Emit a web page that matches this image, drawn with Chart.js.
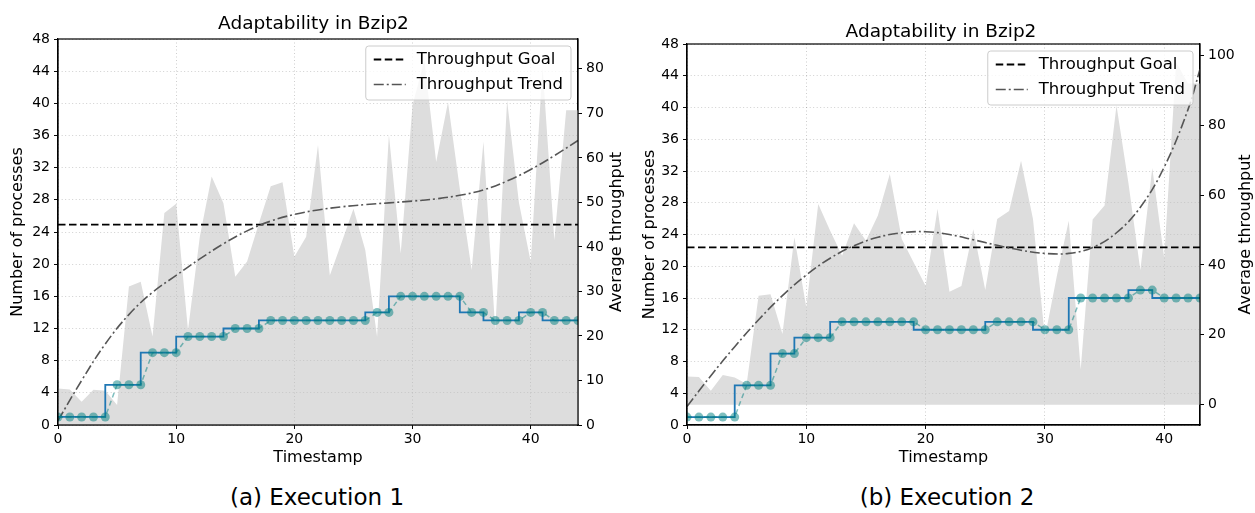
<!DOCTYPE html>
<html>
<head>
<meta charset="utf-8">
<script src="https://cdn.jsdelivr.net/npm/chart.js@4/dist/chart.umd.min.js"></script>
<style>
  body { margin: 0; background: #fff; }
  #page { position: relative; width: 1255px; height: 513px; font-family: "DejaVu Sans", sans-serif; }
  canvas { position: absolute; top: 0; }
  .caption { position: absolute; top: 482px; height: 30px; line-height: 30px; font-size: 23px; text-align: center; color: #000; }
</style>
</head>
<body>
<div id="page">
  <canvas id="exec1" width="627" height="475" style="left:0"></canvas>
  <canvas id="exec2" width="628" height="475" style="left:627px"></canvas>
  <div class="caption" style="left:0;width:634px">(a) Execution 1</div>
  <div class="caption" style="left:627px;width:640px">(b) Execution 2</div>
</div>
<script>
/* ---------- Execution 1 ---------- */
const procs1 = [1, 1, 1, 1, 1, 5, 5, 5, 9, 9, 9, 11, 11, 11, 11, 12, 12, 12, 13, 13, 13, 13, 13,
  13, 13, 13, 13, 14, 14, 16, 16, 16, 16, 16, 16, 14, 14, 13, 13, 13, 14, 14, 13, 13, 13];
const thr1 = [8.2, 8.0, 5.2, 7.9, 7.7, 4.5, 31.1, 32.2, 19.9, 47.6, 49.7, 21.3, 42.3, 55.8, 49.8,
  33.3, 36.7, 45.3, 53.6, 54.5, 37.8, 42.3, 62.9, 33.6, 41.0, 48.6, 39.3, 19.8, 65.2, 38.5, 71.8,
  81.9, 59.1, 72.5, 53.0, 34.8, 63.6, 21.3, 72.9, 50.0, 36.6, 80.4, 41.5, 70.7, 70.7];
const trendT1 = [0, 2, 4, 6, 8, 10, 12, 14, 16, 18, 20, 22, 24, 26, 28, 30, 32, 34, 36, 38, 40, 42, 44];
const trend1 = [1.0, 10.0, 18.2, 24.8, 29.8, 33.6, 37.3, 40.7, 43.6, 45.8, 47.3, 48.3, 49.0, 49.5,
  49.9, 50.3, 50.8, 51.6, 52.8, 54.8, 57.4, 60.5, 63.9];

/* ---------- Execution 2 ---------- */
const procs2 = [1, 1, 1, 1, 1, 5, 5, 5, 9, 9, 11, 11, 11, 13, 13, 13, 13, 13, 13, 13, 12, 12, 12,
  12, 12, 12, 13, 13, 13, 13, 12, 12, 12, 16, 16, 16, 16, 16, 17, 17, 16, 16, 16, 16];
const thr2 = [8.1, 7.9, 4.0, 8.5, 7.8, 5.9, 31.2, 31.6, 20.2, 47.9, 27.8, 57.4, 49.8, 42.6, 51.9,
  46.9, 54.1, 66.0, 47.4, 40.7, 34.0, 56.1, 32.3, 34.0, 50.2, 32.8, 53.1, 55.4, 69.8, 53.1, 19.2,
  36.8, 52.6, 10.1, 53.0, 57.0, 85.6, 63.4, 38.5, 67.7, 42.0, 98.0, 91.9, 91.9];
const trendT2 = [0, 2, 4, 6, 8, 10, 12, 14, 16, 18, 20, 22, 24, 26, 28, 30, 32, 34, 36, 38, 40, 42, 43];
const trend2 = [-0.5, 8.3, 16.6, 24.3, 31.2, 37.1, 41.9, 45.5, 47.9, 49.2, 49.5, 48.7, 47.2, 45.6,
  44.2, 43.3, 43.3, 45.0, 49.2, 56.5, 68.0, 84.5, 96.0];

const goal = 45;

Chart.defaults.font.family = '"DejaVu Sans", sans-serif';
Chart.defaults.color = '#000';

const pts = (ys, xs) => ys.map((y, i) => ({ x: xs ? xs[i] : i, y }));

// frame, grid over the grey area, right axis title and the boxed legend
const boxLegend = {
  id: 'boxLegend',
  afterDatasetDraw(chart, args) {
    if (args.index === 0) {
      chart.scales.x.drawGrid(chart.chartArea);
      chart.scales.y.drawGrid(chart.chartArea);
    }
  },
  afterDraw(chart, args, opts) {
    const { ctx, chartArea: a } = chart;
    ctx.save();
    ctx.setLineDash([]);
    ctx.strokeStyle = '#000';
    ctx.lineWidth = 1.2;
    ctx.strokeRect(a.left, a.top, a.right - a.left, a.bottom - a.top);

    // right axis title reads bottom to top, same as the left one
    ctx.save();
    ctx.translate(chart.width - opts.rightTitleOffset, (a.top + a.bottom) / 2);
    ctx.rotate(-Math.PI / 2);
    ctx.font = '16px "DejaVu Sans"';
    ctx.fillStyle = '#000';
    ctx.textAlign = 'center';
    ctx.textBaseline = 'middle';
    ctx.fillText('Average throughput', 0, 0);
    ctx.restore();

    const items = chart.data.datasets.filter(d => d.inLegend);
    ctx.font = '16.5px "DejaVu Sans"';
    const textW = Math.max(...items.map(d => ctx.measureText(d.label).width));
    const w = 51 + textW + 8, h = 54;
    const x0 = a.right - 7 - w, y0 = a.top + 7;
    ctx.fillStyle = 'rgba(255,255,255,0.8)';
    ctx.strokeStyle = '#cccccc';
    ctx.lineWidth = 1;
    ctx.beginPath();
    ctx.roundRect(x0, y0, w, h, 3);
    ctx.fill();
    ctx.stroke();
    items.forEach((d, i) => {
      const y = y0 + 13.5 + i * 25;
      ctx.strokeStyle = d.borderColor;
      ctx.lineWidth = d.borderWidth;
      ctx.setLineDash(d.borderDash);
      ctx.beginPath();
      ctx.moveTo(x0 + 8, y);
      ctx.lineTo(x0 + 40, y);
      ctx.stroke();
      ctx.setLineDash([]);
      ctx.fillStyle = '#000';
      ctx.textAlign = 'left';
      ctx.textBaseline = 'middle';
      ctx.fillText(d.label, x0 + 51, y);
    });
    ctx.restore();
  }
};

function makeChart(id, c) {
  const tickFont = { size: 14 };
  const gridOpts = { color: 'rgba(0,0,0,0.13)', lineWidth: 0.8, tickColor: '#000', tickLength: 4, tickBorderDash: [] };
  return new Chart(document.getElementById(id), {
    type: 'line',
    plugins: [boxLegend],
    data: {
      datasets: [
        {
          label: 'Average throughput',
          data: pts(c.thr),
          yAxisID: 'y1',
          fill: { value: 0 },
          backgroundColor: '#dddddd',
          borderWidth: 0,
          pointRadius: 0,
          order: 5
        },
        {
          label: 'Throughput Goal',
          inLegend: true,
          data: [{ x: 0, y: goal }, { x: c.xMax, y: goal }],
          yAxisID: 'y1',
          borderColor: '#000',
          borderWidth: 1.8,
          borderDash: [7.5, 3.5],
          pointRadius: 0,
          order: 3
        },
        {
          label: 'Throughput Trend',
          inLegend: true,
          data: pts(c.trend, c.trendT),
          yAxisID: 'y1',
          borderColor: '#555555',
          borderWidth: 1.6,
          borderDash: [10, 3, 2, 3],
          tension: 0.4,
          pointRadius: 0,
          order: 2
        },
        {
          label: 'Processes',
          data: pts(c.procs),
          yAxisID: 'y',
          stepped: 'after',
          borderColor: '#1f77b4',
          borderWidth: 1.8,
          pointRadius: 0,
          order: 1
        },
        {
          label: 'Processes (sampled)',
          data: pts(c.procs),
          yAxisID: 'y',
          borderColor: 'rgba(0,128,128,0.5)',
          borderWidth: 1.5,
          borderDash: [5, 3.5],
          pointRadius: 4.5,
          pointBorderWidth: 0,
          pointBackgroundColor: 'rgba(0,128,128,0.5)',
          order: 0
        }
      ]
    },
    options: {
      responsive: false,
      animation: false,
      events: [],
      layout: { padding: 0 },
      plugins: {
        legend: { display: false },
        tooltip: { enabled: false },
        title: {
          display: true,
          text: 'Adaptability in Bzip2',
          font: { size: 18.5, weight: 'normal' },
          padding: c.titlePad
        },
        boxLegend: { rightTitleOffset: c.rightTitleOffset }
      },
      scales: {
        x: {
          type: 'linear',
          min: 0,
          max: c.xMax,
          afterFit: s => { s.height = 50; },
          ticks: { stepSize: 10, includeBounds: false, font: tickFont, padding: 2, maxRotation: 0 },
          grid: gridOpts,
          border: { color: '#000', width: 1.2, dash: [1, 2.5] },
          title: { display: true, text: 'Timestamp', font: { size: 16 }, padding: { top: 0, bottom: 7.4 } }
        },
        y: {
          position: 'left',
          min: 0,
          max: 48,
          afterFit: s => { s.width = c.leftW; },
          ticks: { stepSize: 4, font: tickFont, padding: 4 },
          grid: gridOpts,
          border: { color: '#000', width: 1.2, dash: [1, 2.5] },
          title: { display: true, text: 'Number of processes', font: { size: 16 }, padding: { top: c.yTitlePad, bottom: 0 } }
        },
        y1: {
          position: 'right',
          min: c.y1Min,
          max: c.y1Max,
          afterFit: s => { s.width = c.rightW; },
          ticks: { stepSize: c.y1Step, includeBounds: false, font: tickFont, padding: 4 },
          grid: { drawOnChartArea: false, color: '#000', tickLength: 4 },
          border: { color: '#000', width: 1.2 }
        }
      }
    }
  });
}

makeChart('exec1', {
  procs: procs1, thr: thr1, trend: trend1, trendT: trendT1,
  xMax: 44, y1Min: 0, y1Max: 86.7, y1Step: 10,
  leftW: 58, rightW: 49, titlePad: { top: 13.5, bottom: 3.3 },
  yTitlePad: 8.4, rightTitleOffset: 10
});

makeChart('exec2', {
  procs: procs2, thr: thr2, trend: trend2, trendT: trendT2,
  xMax: 43, y1Min: -5.8, y1Max: 103.2, y1Step: 20,
  leftW: 60, rightW: 55, titlePad: { top: 21, bottom: 0.8 },
  yTitlePad: 13.4, rightTitleOffset: 9
});
</script>
</body>
</html>
